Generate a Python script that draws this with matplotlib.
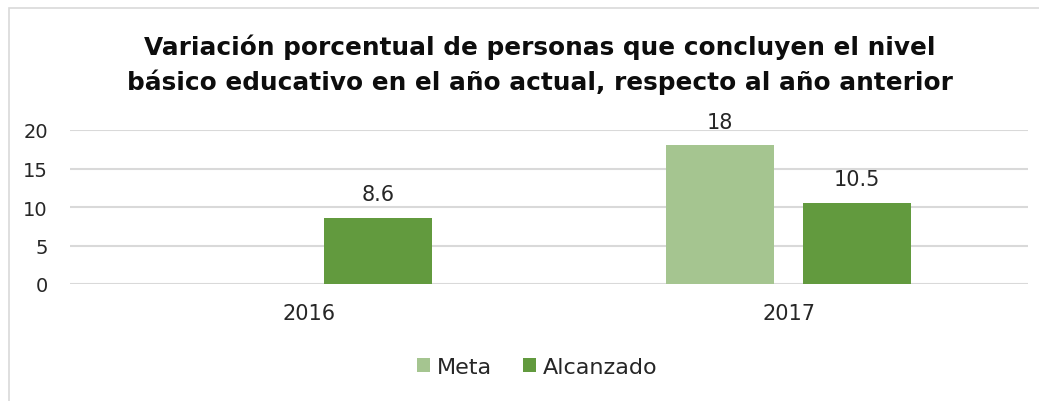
import matplotlib
matplotlib.use('Agg')
import matplotlib.pyplot as plt
import numpy as np
from matplotlib.patches import Rectangle

categories = ['2016', '2017']
meta = [np.nan, 18]
alcanzado = [8.6, 10.5]
series_names = ['Meta', 'Alcanzado']
yticks = [0, 5, 10, 15, 20]

plt.rcParams['font.family'] = ['DejaVu Sans']

fig = plt.figure(figsize=(10.39, 4.02), dpi=100)
ax = fig.add_axes([70/1039, 117/402, 958/1039, 154/402])

x = np.arange(len(categories))
w = 0.2255
off = 0.143
b1 = ax.bar(x - off, meta, w, color='#a5c590', label=series_names[0], zorder=3)
b2 = ax.bar(x + off, alcanzado, w, color='#629a3e', label=series_names[1], zorder=3)

for bars, vals in [(b1, meta), (b2, alcanzado)]:
    for rect, v in zip(bars, vals):
        if np.isnan(v):
            continue
        ax.annotate(f'{v:g}', (rect.get_x() + rect.get_width()/2, v),
                    xytext=(0, 10), textcoords='offset points',
                    ha='center', va='bottom', fontsize=15, color='#262626')

ax.set_xlim(-0.5, 1.5)
ax.set_ylim(0, 20)
ax.set_yticks(yticks)
ax.set_yticklabels([str(t) for t in yticks], fontsize=14)
ax.set_xticks(x)
ax.set_xticklabels(categories, fontsize=15)
ax.tick_params(axis='both', length=0, colors='#262626')
ax.tick_params(axis='x', pad=14)
ax.tick_params(axis='y', pad=16)
ax.grid(axis='y', color='#d9d9d9', linewidth=1.5, zorder=0)
for s in ax.spines.values():
    s.set_visible(False)

fig.text(540/1039, 1 - 65/402,
         'Variación porcentual de personas que concluyen el nivel\n'
         'básico educativo en el año actual, respecto al año anterior',
         ha='center', va='center', fontsize=17.8, fontweight='bold',
         linespacing=1.45, color='#0d0d0d')

fig.legend(loc='center', bbox_to_anchor=(537/1039, 1 - 368/402), ncol=2,
           frameon=False, fontsize=16, handlelength=0.6, handleheight=0.6,
           handletextpad=0.3, columnspacing=1.4, labelcolor='#262626')

fig.patches.append(Rectangle((9/1039, -0.05), 1.1, 1 - 9/402 + 0.05,
                             transform=fig.transFigure, fill=False,
                             edgecolor='#d9d9d9', linewidth=1.2))

fig.savefig('out.png', dpi=100)
